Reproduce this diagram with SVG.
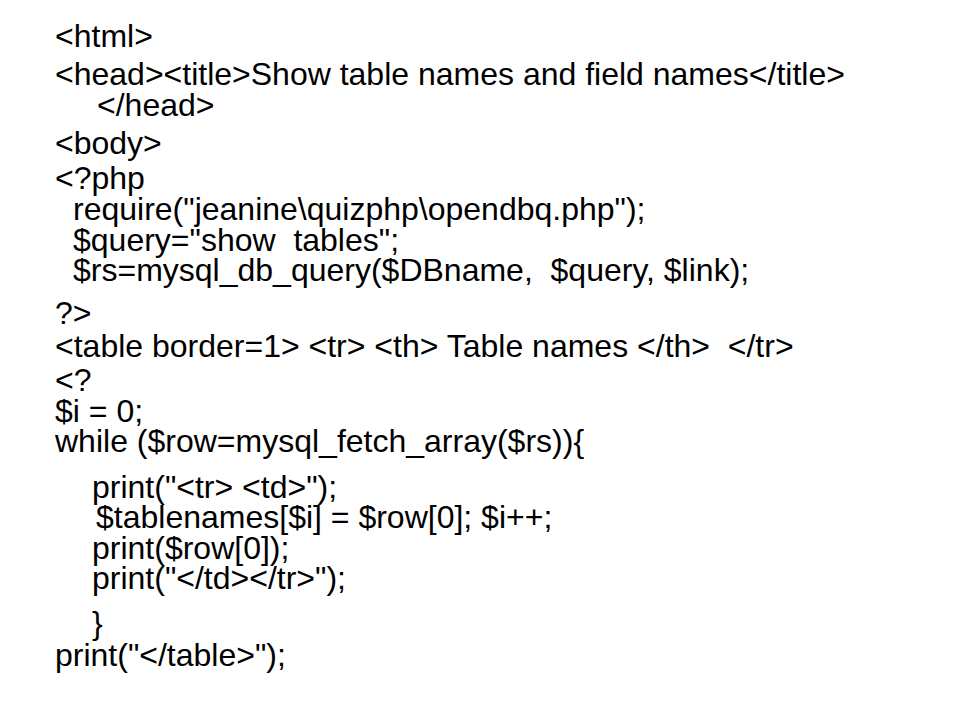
<svg xmlns="http://www.w3.org/2000/svg" width="960" height="720" viewBox="0 0 960 720">
<style>
  text { font-family: "Liberation Sans", Arial, sans-serif; font-size: 32px; fill: #000; white-space: pre; }
</style>
<rect width="960" height="720" fill="#fff"/>
<g id="code" xml:space="preserve">
<text x="55" y="47">&lt;html&gt;</text>
<text x="55" y="85">&lt;head&gt;&lt;title&gt;Show table names and field names&lt;/title&gt;</text>
<text x="97" y="116">&lt;/head&gt;</text>
<text x="55" y="154">&lt;body&gt;</text>
<text x="55" y="189">&lt;?php</text>
<text x="73" y="220">require("jeanine\quizphp\opendbq.php");</text>
<text x="73" y="251">$query="show  tables";</text>
<text x="73" y="281">$rs=mysql_db_query($DBname,  $query, $link);</text>
<text x="55" y="324">?&gt;</text>
<text x="55" y="357">&lt;table border=1&gt; &lt;tr&gt; &lt;th&gt; Table names &lt;/th&gt;  &lt;/tr&gt;</text>
<text x="55" y="391">&lt;?</text>
<text x="55" y="422">$i = 0;</text>
<text x="55" y="452">while ($row=mysql_fetch_array($rs)){</text>
<text x="92" y="498">print("&lt;tr&gt; &lt;td&gt;");</text>
<text x="96" y="528">$tablenames[$i] = $row[0]; $i++;</text>
<text x="92" y="559">print($row[0]);</text>
<text x="92" y="589">print("&lt;/td&gt;&lt;/tr&gt;");</text>
<text x="92" y="634">}</text>
<text x="55" y="666">print("&lt;/table&gt;");</text>
</g>
</svg>
